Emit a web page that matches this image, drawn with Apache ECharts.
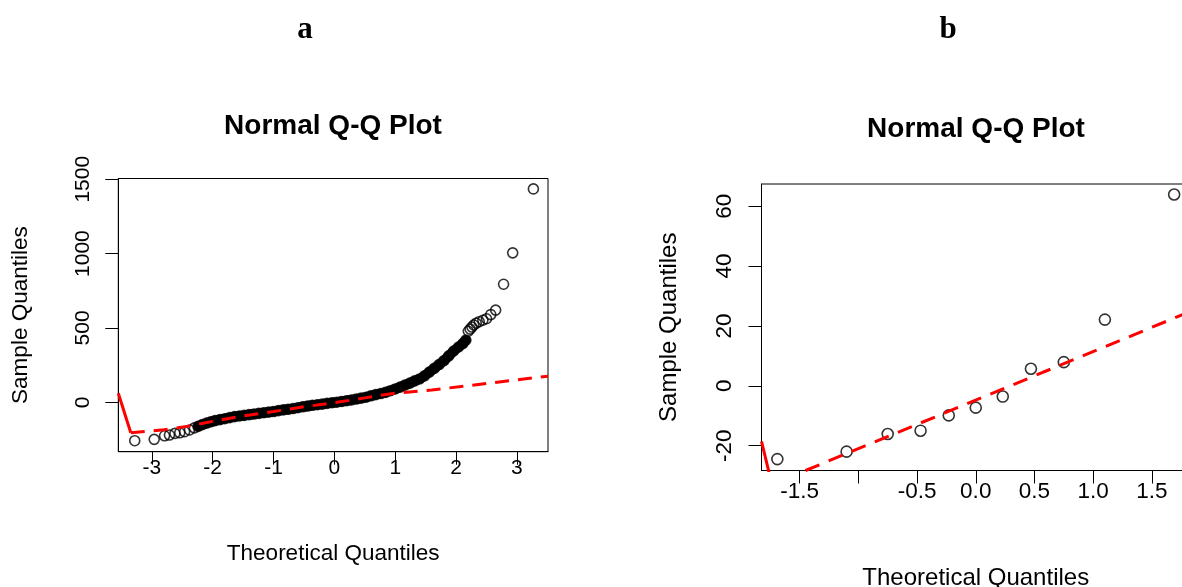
<!DOCTYPE html>
<html>
<head>
<meta charset="utf-8">
<script src="https://cdn.jsdelivr.net/npm/echarts@6/dist/echarts.min.js"></script>
<style>html,body{margin:0;padding:0;background:#fff}#c{width:1182px;height:587px}</style>
</head>
<body>
<div id="c"></div>
<script>
// ---- Panel a: Normal Q-Q plot (theoretical vs sample quantiles) ----
const aTheo = [-3.28,-2.96,-2.79,-2.71,-2.62,-2.54,-2.46,-2.38,-2.30,-2.24,
  -2.17,-2.10,-2.03,-1.96,-1.88,-1.80,-1.72,-1.64,-1.56,-1.48,-1.40,-1.32,-1.24,-1.16,-1.08,-1.00,
  -0.92,-0.84,-0.76,-0.68,-0.60,-0.52,-0.44,-0.36,-0.28,-0.20,-0.12,-0.04,0.04,0.12,0.20,0.28,
  0.36,0.44,0.52,0.60,0.68,0.76,0.84,0.92,1.00,1.08,1.16,1.24,1.32,1.40,1.48,1.56,1.64,1.72,
  1.80,1.88,1.96,2.04,2.11,2.16,
  2.20,2.23,2.26,2.29,2.33,2.38,2.44,2.50,2.57,2.65,2.78,2.93,3.27];
const aSample = [-258,-249,-225,-220,-209,-205,-198,-186,-172,-162,
  -150,-140,-131,-123,-116,-110,-103,-96,-92,-88,-83,-79,-74,-70,-66,-62,
  -56,-51,-47,-42,-36,-30,-25,-20,-16,-12,-7,-3,1,6,11,16,
  22,28,34,44,52,59,67,78,90,102,116,129,144,157,178,203,228,254,
  280,312,345,372,395,418,
  478,492,506,520,532,542,552,562,590,620,794,1005,1435];
// reference line (dashed) and its steep start (solid)
const aFitX = [-3.345,-2.8,-2.4,-2.0,-1.5,-1.0,-0.5,0.0,0.5,1.0,1.6,2.3,3.51];
const aFitY = [-205,-185,-160,-128,-92,-62,-30,-3,30,62,83,117,176];
const aEdgeX = [-3.55,-3.345];
const aEdgeY = [61,-205];
const aXTicks = [-3,-2,-1,0,1,2,3];
const aYTicks = [0,500,1000,1500];

// ---- Panel b ----
const bTheo = [-1.69,-1.10,-0.75,-0.47,-0.23,0.00,0.23,0.47,0.75,1.10,1.69];
const bSample = [-24.5,-22.0,-16.1,-15.0,-9.9,-7.3,-3.6,5.7,7.9,22.1,63.9];
const bFitX = [-1.45,1.85];
const bFitY = [-28.3,25.2];
const bEdgeX = [-1.825,-1.75];
const bEdgeY = [-18.6,-30.7];
const bXTicks = [-1.5,-1.0,-0.5,0.0,0.5,1.0,1.5];
const bXLabels = [-1.5,-0.5,0.0,0.5,1.0,1.5];
const bYTicks = [-20,0,20,40,60];

const zip = (xs, ys) => xs.map((x, i) => [x, ys[i]]);
const FONT = 'Liberation Sans, Arial, sans-serif';
const RED = '#ff0000';

function xAxisCfg(grid, min, max, ticks, labels, fs, margin, nameGap, fmt) {
  return {
    type: 'value', gridIndex: grid, min: min, max: max,
    axisLine: {show: true, onZero: false, lineStyle: {color: '#000', width: 1}},
    axisTick: {show: true, inside: false, length: 13, customValues: ticks, lineStyle: {color: '#000', width: 1}},
    axisLabel: {show: true, customValues: labels, fontSize: fs, color: '#000', fontFamily: FONT, margin: margin, formatter: fmt},
    splitLine: {show: false},
    name: 'Theoretical Quantiles', nameLocation: 'middle', nameGap: nameGap,
    nameTextStyle: {fontSize: fs + 1.5, color: '#000', fontFamily: FONT}
  };
}
function yAxisCfg(grid, min, max, ticks, fs, margin, nameGap) {
  return {
    type: 'value', gridIndex: grid, min: min, max: max,
    axisLine: {show: true, onZero: false, lineStyle: {color: '#000', width: 1}},
    axisTick: {show: true, inside: false, length: 13, customValues: ticks, lineStyle: {color: '#000', width: 1}},
    axisLabel: {show: true, customValues: ticks, rotate: 90, fontSize: fs, color: '#000', fontFamily: FONT, margin: margin,
      formatter: v => String(v)},
    splitLine: {show: false},
    name: 'Sample Quantiles', nameLocation: 'middle', nameGap: nameGap, nameRotate: 90,
    nameTextStyle: {fontSize: fs + 1.5, color: '#000', fontFamily: FONT}
  };
}

const band = zip(aTheo, aSample).filter(p => p[0] >= -2.24 && p[0] <= 2.16);

const chart = echarts.init(document.getElementById('c'), null, {renderer: 'canvas'});
chart.setOption({
  animation: false,
  backgroundColor: '#fff',
  title: [
    {text: 'a', left: 305, top: 14, textAlign: 'center', padding: 0,
     textStyle: {fontFamily: 'Liberation Serif, Times New Roman, serif', fontWeight: 'bold', fontSize: 31, color: '#000'}},
    {text: 'b', left: 948, top: 14, textAlign: 'center', padding: 0,
     textStyle: {fontFamily: 'Liberation Serif, Times New Roman, serif', fontWeight: 'bold', fontSize: 31, color: '#000'}},
    {text: 'Normal Q-Q Plot', left: 333, top: 112, textAlign: 'center', padding: 0,
     textStyle: {fontFamily: FONT, fontWeight: 'bold', fontSize: 28, color: '#000'}},
    {text: 'Normal Q-Q Plot', left: 976, top: 115, textAlign: 'center', padding: 0,
     textStyle: {fontFamily: FONT, fontWeight: 'bold', fontSize: 28, color: '#000'}}
  ],
  grid: [
    {left: 118.3, top: 178.5, width: 429.7, height: 273.2, show: true, borderColor: '#000', borderWidth: 1,
     containLabel: false, outerBoundsMode: 'none'},
    {left: 761.5, top: 184, width: 428.5, height: 286.5, show: true, borderColor: '#000', borderWidth: 1,
     containLabel: false, outerBoundsMode: 'none'}
  ],
  xAxis: [
    xAxisCfg(0, -3.55, 3.51, aXTicks, aXTicks, 21, 6, 91, v => String(v)),
    xAxisCfg(1, -1.825, 1.825, bXTicks, bXLabels, 22.5, 9.5, 95.5, v => Number(v).toFixed(1))
  ],
  yAxis: [
    yAxisCfg(0, -332, 1505, aYTicks, 21, 25, 86),
    yAxisCfg(1, -28.3, 67.4, bYTicks, 22.5, 25, 80)
  ],
  series: [
    {type: 'line', xAxisIndex: 0, yAxisIndex: 0, data: band, symbol: 'none', z: 2,
     lineStyle: {color: '#000', width: 10, cap: 'round', join: 'round'}, silent: true},
    {type: 'scatter', xAxisIndex: 0, yAxisIndex: 0, data: zip(aTheo, aSample), symbol: 'circle', symbolSize: 10, z: 3,
     itemStyle: {color: 'rgba(0,0,0,0)', borderColor: '#000', borderWidth: 1.6}},
    {type: 'line', xAxisIndex: 0, yAxisIndex: 0, data: zip(aFitX, aFitY), symbol: 'none', z: 4, clip: true,
     lineStyle: {color: RED, width: 3, type: [14, 9]}},
    {type: 'line', xAxisIndex: 0, yAxisIndex: 0, data: zip(aEdgeX, aEdgeY), symbol: 'none', z: 4, clip: true,
     lineStyle: {color: RED, width: 3}},
    {type: 'scatter', xAxisIndex: 1, yAxisIndex: 1, data: zip(bTheo, bSample), symbol: 'circle', symbolSize: 11, z: 3,
     itemStyle: {color: 'rgba(0,0,0,0)', borderColor: '#000', borderWidth: 1.6}},
    {type: 'line', xAxisIndex: 1, yAxisIndex: 1, data: zip(bFitX, bFitY), symbol: 'none', z: 4, clip: true,
     lineStyle: {color: RED, width: 3, type: [15, 10]}},
    {type: 'line', xAxisIndex: 1, yAxisIndex: 1, data: zip(bEdgeX, bEdgeY), symbol: 'none', z: 4, clip: true,
     lineStyle: {color: RED, width: 3}}
  ]
});
</script>
</body>
</html>
